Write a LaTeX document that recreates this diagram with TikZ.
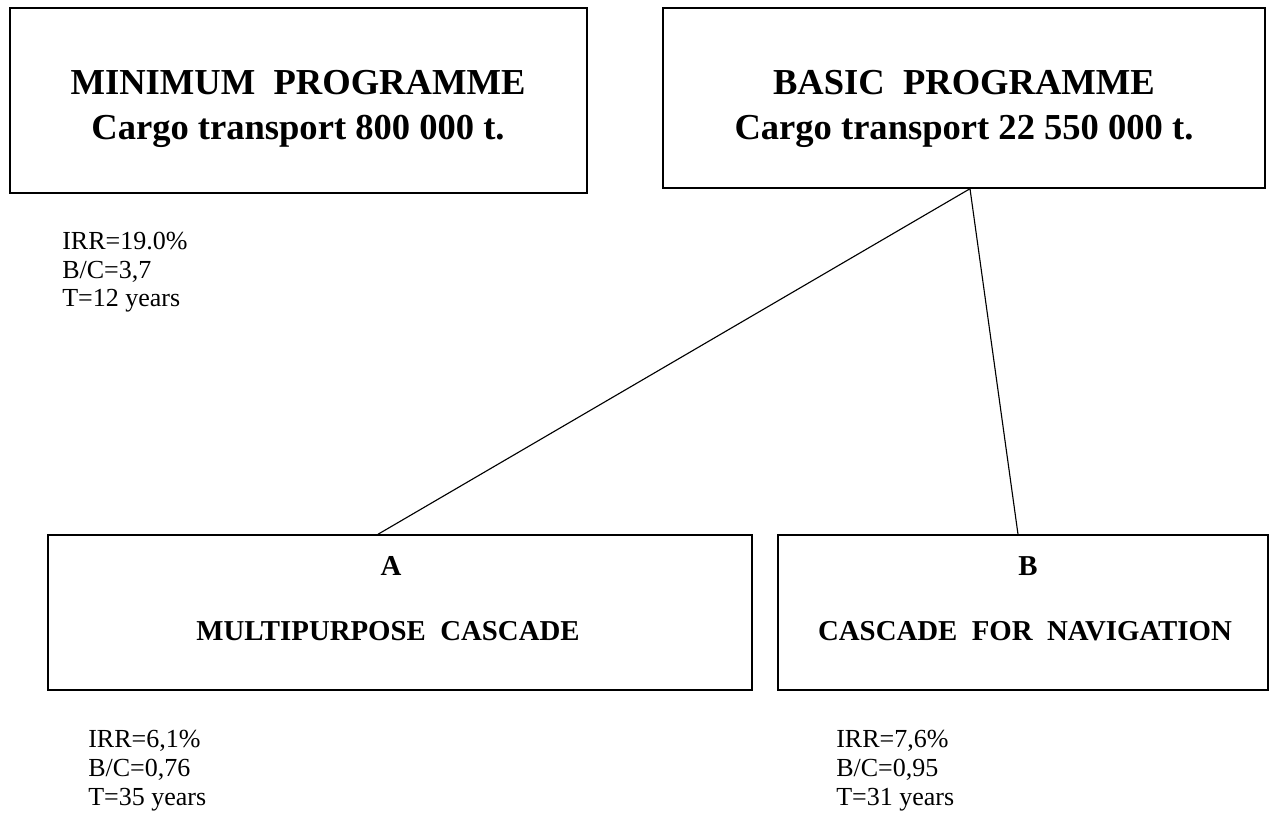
\documentclass[tikz,border=0pt]{standalone}
\usepackage{fontspec}
\setmainfont{Liberation Serif}
\usepackage{tikz}

\tikzset{
  progbox/.style={draw=black, line width=1pt, inner sep=0pt},
  headtext/.style={font=\fontsize{26}{31.5}\selectfont\bfseries, align=center, inner sep=0pt},
  casctext/.style={font=\fontsize{20.5}{24}\selectfont\bfseries, inner sep=0pt},
  stattext/.style={font=\fontsize{18.5}{20.6}\selectfont, align=left, inner sep=0pt, anchor=base west}
}

\begin{document}
\begin{tikzpicture}[x=0.025cm,y=-0.025cm]
\useasboundingbox (0,0) rectangle (1278,819);
% programmes
\node [progbox, minimum width=14.425cm, minimum height=4.625cm] (minprog) at (298.5,100.5) {};
\node [headtext] (minhead) at (298,109) {MINIMUM\ \ PROGRAMME\\Cargo transport 800 000 t.};
\node [progbox, minimum width=15.05cm, minimum height=4.5cm] (basprog) at (964,98) {};
\node [headtext] (bashead) at (964,109) {BASIC\ \ PROGRAMME\\Cargo transport 22 550 000 t.};
% cascades
\node [progbox, minimum width=17.6cm, minimum height=3.875cm] (casA) at (400,612.5) {};
\node [casctext] (casAlet) at (391,566) {A};
\node [casctext] (casAname) at (388,631) {MULTIPURPOSE\ \ CASCADE};
\node [progbox, minimum width=12.25cm, minimum height=3.875cm] (casB) at (1023,612.5) {};
\node [casctext] (casBlet) at (1028,566) {B};
\node [casctext] (casBname) at (1025,631) {CASCADE\ \ FOR\ \ NAVIGATION};
% indicators
\node [stattext] (minstat) at (62,307) {IRR=19.0\%\\B/C=3,7\\T=12 years};
\node [stattext] (Astat) at (88,805) {IRR=6,1\%\\B/C=0,76\\T=35 years};
\node [stattext] (Bstat) at (836,805) {IRR=7,6\%\\B/C=0,95\\T=31 years};
% links
\draw [line width=0.8pt] ([xshift=0.15cm]basprog.south) -- ([xshift=-0.55cm]casA.north);
\draw [line width=0.8pt] ([xshift=0.15cm]basprog.south) -- ([xshift=-0.125cm]casB.north);
\end{tikzpicture}
\end{document}
